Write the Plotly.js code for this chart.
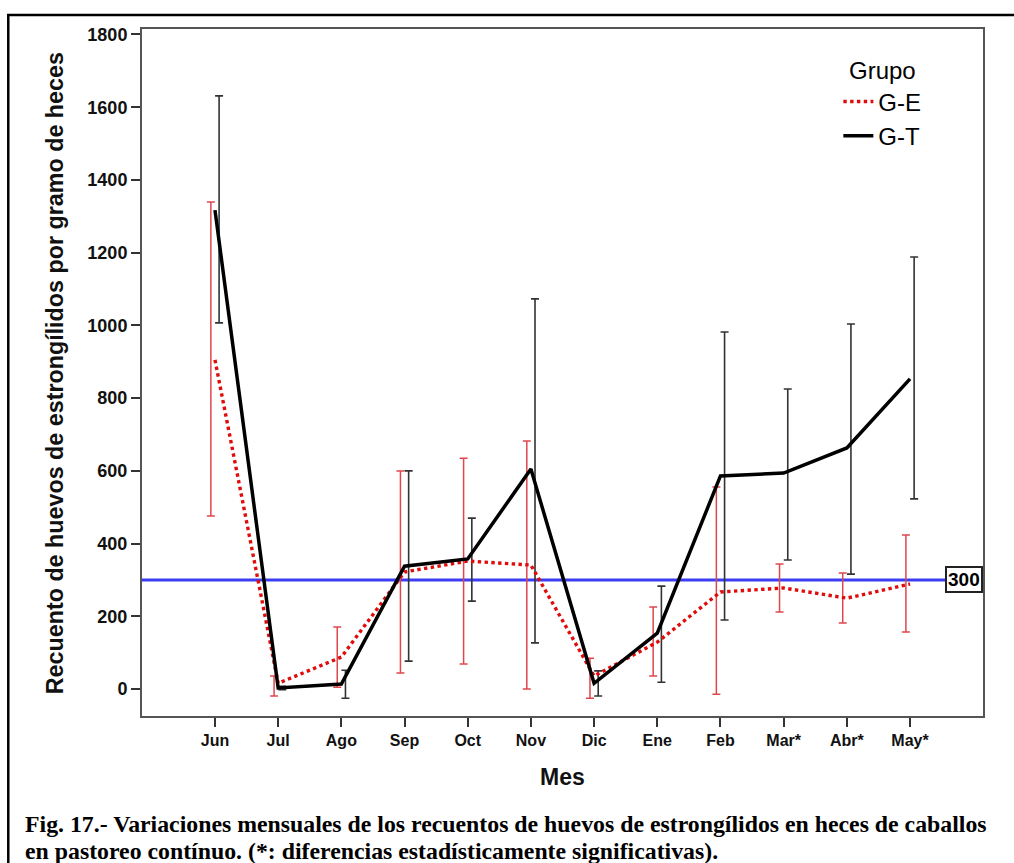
<!DOCTYPE html>
<html>
<head>
<meta charset="utf-8">
<script src="https://cdn.plot.ly/plotly-3.0.1.min.js"></script>
<style>
  html, body { margin: 0; padding: 0; background: #fff; }
  #chart { width: 1014px; height: 863px; }
</style>
</head>
<body>
<div id="chart"></div>
<script>
// ---- data ----
const months = ["Jun", "Jul", "Ago", "Sep", "Oct", "Nov", "Dic", "Ene", "Feb", "Mar*", "Abr*", "May*"];

// G-E (red dotted): mean and error-bar ends
const geMean  = [905, 16, 88, 322, 352, 341, 36, 129, 267, 278, 250, 289];
const geUpper = [1339, 36, 171, 600, 635, 682, 85, 226, 556, 344, 319, 424];
const geLower = [476, -19, 5, 44, 69, 0, -25, 36, -14, 212, 182, 157];

// G-T (black solid): mean and error-bar ends
const gtMean  = [1317, 3, 14, 338, 358, 605, 16, 154, 586, 594, 663, 853];
const gtUpper = [1631, 8, 52, 600, 470, 1073, 50, 283, 982, 825, 1004, 1188];
const gtLower = [1007, -2, -25, 77, 242, 127, -19, 19, 190, 355, 316, 523];

const refValue = 300;
const yTicks = [0, 200, 400, 600, 800, 1000, 1200, 1400, 1600, 1800];

const captionLine1 = "Fig. 17.- Variaciones mensuales de los recuentos de huevos de estrongílidos en heces de caballos";
const captionLine2 = "en pastoreo contínuo. (*: diferencias estadísticamente significativas).";

// ---- build ----
const idx = months.map((m, i) => i);
const off = 0.065;
const errUp = (u, m) => u.map((v, i) => v - m[i]);
const errDn = (l, m) => l.map((v, i) => m[i] - v);

const sans = "Liberation Sans, Arial, Helvetica, sans-serif";
const serif = "Liberation Serif, Times New Roman, serif";

const traces = [
  {
    x: idx.map(i => i - off), y: geMean, type: "scatter", mode: "markers",
    marker: { size: 1, color: "rgba(0,0,0,0)" }, showlegend: false, hoverinfo: "skip",
    error_y: { type: "data", symmetric: false, array: errUp(geUpper, geMean), arrayminus: errDn(geLower, geMean),
               color: "#e0474c", thickness: 1.5, width: 4 }
  },
  {
    x: idx.map(i => i + off), y: gtMean, type: "scatter", mode: "markers",
    marker: { size: 1, color: "rgba(0,0,0,0)" }, showlegend: false, hoverinfo: "skip",
    error_y: { type: "data", symmetric: false, array: errUp(gtUpper, gtMean), arrayminus: errDn(gtLower, gtMean),
               color: "#333333", thickness: 1.6, width: 4 }
  },
  {
    x: idx, y: geMean, type: "scatter", mode: "lines", name: "G-E",
    line: { color: "#e00c0c", width: 3.4, dash: "dot" }
  },
  {
    x: idx, y: gtMean, type: "scatter", mode: "lines", name: "G-T",
    line: { color: "#000000", width: 3.5 }
  }
];

const layout = {
  width: 1014, height: 863,
  margin: { l: 142, r: 31, t: 29, b: 147 },
  paper_bgcolor: "#ffffff", plot_bgcolor: "#ffffff",
  showlegend: true,
  xaxis: {
    range: [-1.155, 12.155], tickmode: "array", tickvals: idx, ticktext: months,
    showgrid: false, zeroline: false,
    showline: true, mirror: true, linecolor: "#555555", linewidth: 2,
    ticks: "outside", ticklen: 9, tickwidth: 2, tickcolor: "#333333",
    tickfont: { family: sans, size: 16, color: "#111", weight: "bold" }
  },
  yaxis: {
    range: [-74, 1815], tickmode: "array", tickvals: yTicks,
    showgrid: false, zeroline: false,
    showline: true, mirror: true, linecolor: "#555555", linewidth: 2,
    ticks: "outside", ticklen: 9, tickwidth: 2, tickcolor: "#333333",
    tickfont: { family: sans, size: 18, color: "#111", weight: "bold" }
  },
  legend: {
    x: 0.828, xanchor: "left", y: 0.972, yanchor: "top",
    bgcolor: "rgba(0,0,0,0)", borderwidth: 0,
    font: { family: sans, size: 24, color: "#000" },
    title: { text: "Grupo", side: "top center", font: { family: sans, size: 24, color: "#000" } },
    tracegroupgap: 0
  },
  shapes: [
    { type: "line", xref: "paper", x0: 0, x1: 1, yref: "y", y0: refValue, y1: refValue,
      line: { color: "#3c3cf5", width: 3 }, layer: "below" },
    { type: "rect", xref: "paper", yref: "paper", x0: -0.159, x1: 1.2, y0: -0.3, y1: 1.0204,
      line: { color: "#000", width: 2.5 }, fillcolor: "rgba(0,0,0,0)" }
  ],
  annotations: [
    { xref: "paper", x: 1, xanchor: "right", yref: "y", y: refValue, yanchor: "middle",
      text: "<b>" + refValue + "</b>", showarrow: false,
      font: { family: sans, size: 19, color: "#000" },
      bgcolor: "#ffffff", bordercolor: "#222", borderwidth: 2, borderpad: 1 },
    { xref: "paper", x: -0.1034, xanchor: "center", yref: "paper", y: 0.499, yanchor: "middle",
      textangle: -90, showarrow: false,
      text: "<b>Recuento de huevos de estrongílidos por gramo de heces</b>",
      font: { family: sans, size: 23.3, color: "#111" } },
    { xref: "paper", x: 0.5, xanchor: "center", yref: "paper", y: -0.0888, yanchor: "middle",
      showarrow: false, text: "<b>Mes</b>", font: { family: sans, size: 23, color: "#111" } },
    { xref: "paper", x: -0.1415, xanchor: "left", yref: "paper", y: -0.135, yanchor: "top",
      showarrow: false, align: "left", text: "<b>" + captionLine1 + "</b>",
      font: { family: serif, size: 23.8, color: "#000" } },
    { xref: "paper", x: -0.1415, xanchor: "left", yref: "paper", y: -0.175, yanchor: "top",
      showarrow: false, align: "left", text: "<b>" + captionLine2 + "</b>",
      font: { family: serif, size: 23.8, color: "#000" } }
  ]
};

Plotly.newPlot("chart", traces, layout, { displayModeBar: false, staticPlot: true });
</script>
</body>
</html>
